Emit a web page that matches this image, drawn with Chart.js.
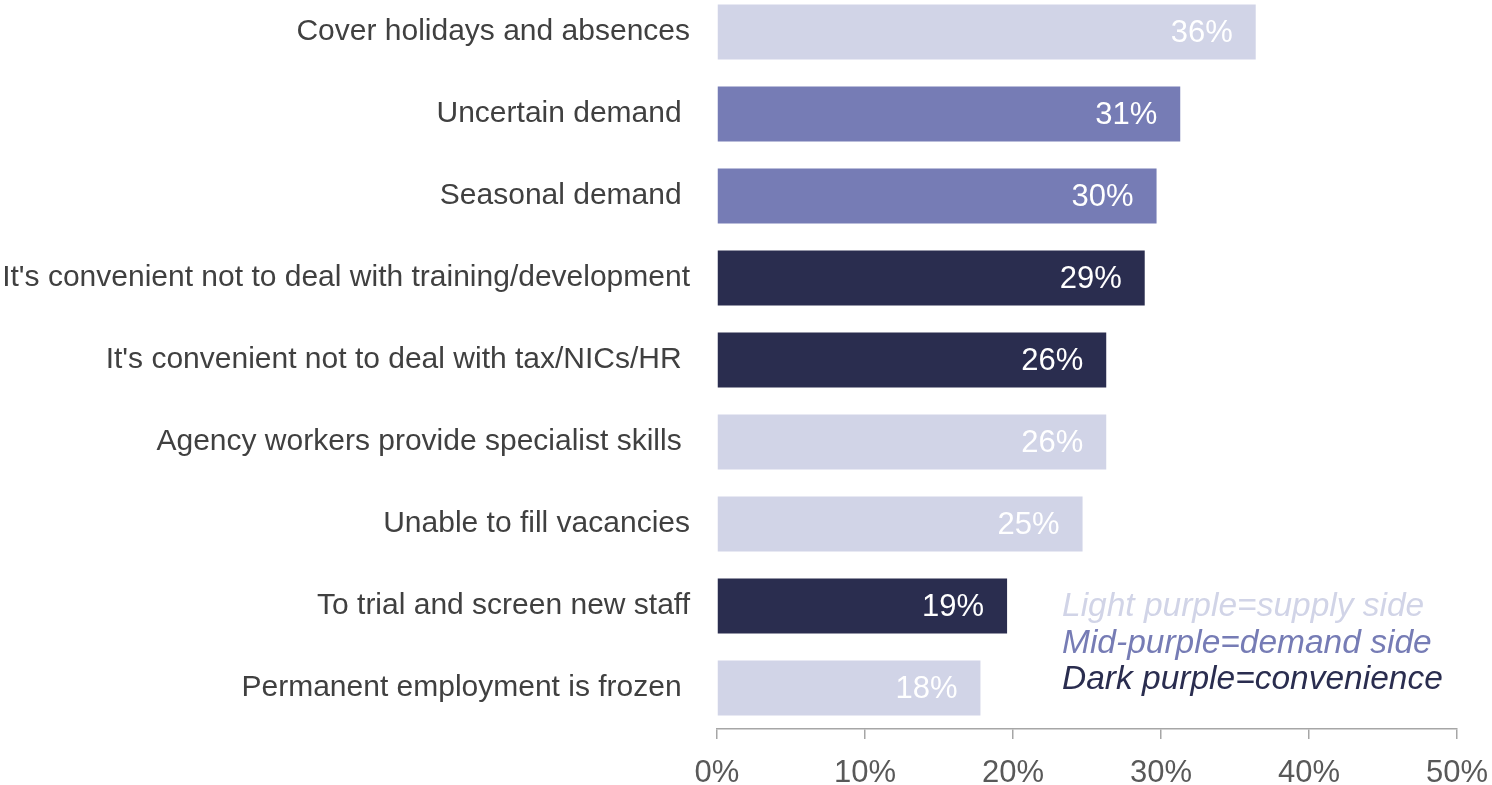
<!DOCTYPE html>
<html>
<head>
<meta charset="utf-8">
<script src="https://cdn.jsdelivr.net/npm/chart.js@4"></script>
<style>
  html, body { margin: 0; padding: 0; background: #ffffff; overflow: hidden; }
  #wrap { width: 1492px; height: 794px; position: absolute; left: 0; top: -9px; }
</style>
</head>
<body>
<div id="wrap"><canvas id="chart"></canvas></div>
<script>
// Reasons for using agency workers (share of employers)
const categories = [
  'Cover holidays and absences',
  'Uncertain demand ',
  'Seasonal demand ',
  "It's convenient not to deal with training/development",
  "It's convenient not to deal with tax/NICs/HR ",
  'Agency workers provide specialist skills ',
  'Unable to fill vacancies',
  'To trial and screen new staff',
  'Permanent employment is frozen '
];
const values = [36.4, 31.3, 29.7, 28.9, 26.3, 26.3, 24.7, 19.6, 17.8];
const valueLabels = ['36%', '31%', '30%', '29%', '26%', '26%', '25%', '19%', '18%'];
// supply / demand / convenience grouping for each bar
const groups = ['supply', 'demand', 'demand', 'convenience', 'convenience', 'supply', 'supply', 'convenience', 'supply'];
const xTicks = [0, 10, 20, 30, 40, 50];
const legendLines = [
  { text: 'Light purple=supply side', group: 'supply' },
  { text: 'Mid-purple=demand side', group: 'demand' },
  { text: 'Dark purple=convenience', group: 'convenience' }
];

const groupColors = {
  supply: '#d1d4e7',
  demand: '#767cb5',
  convenience: '#2a2d4f'
};

// white % labels inside the bar ends
const barLabels = {
  id: 'barLabels',
  afterDatasetsDraw(chart) {
    const { ctx } = chart;
    const meta = chart.getDatasetMeta(0);
    ctx.save();
    ctx.font = '31px "Liberation Sans", Arial, sans-serif';
    ctx.fillStyle = '#ffffff';
    ctx.textAlign = 'right';
    ctx.textBaseline = 'middle';
    meta.data.forEach((bar, i) => {
      ctx.fillText(valueLabels[i], bar.x - 23, bar.y + 1);
    });
    ctx.restore();
  }
};

// colour key text in the lower right
const colourKey = {
  id: 'colourKey',
  afterDraw(chart) {
    const { ctx, chartArea } = chart;
    ctx.save();
    ctx.font = 'italic 33.5px "Liberation Sans", Arial, sans-serif';
    ctx.textAlign = 'left';
    ctx.textBaseline = 'alphabetic';
    legendLines.forEach((line, i) => {
      ctx.fillStyle = groupColors[line.group];
      ctx.fillText(line.text, chartArea.left + 345, chartArea.bottom - 113 + i * 36.5);
    });
    ctx.restore();
  }
};

new Chart(document.getElementById('chart'), {
  type: 'bar',
  data: {
    labels: categories,
    datasets: [{
      data: values,
      backgroundColor: groups.map(g => groupColors[g]),
      borderWidth: 0,
      barPercentage: 0.67,
      categoryPercentage: 1
    }]
  },
  options: {
    indexAxis: 'y',
    responsive: true,
    maintainAspectRatio: false,
    animation: false,
    layout: { padding: 0 },
    plugins: {
      legend: { display: false },
      tooltip: { enabled: false }
    },
    scales: {
      x: {
        min: 0,
        max: 50,
        afterBuildTicks: axis => { axis.ticks = xTicks.map(v => ({ value: v })); },
        afterFit: axis => {
          axis.height = 56;
          axis.paddingLeft = 0;
          axis.paddingRight = 35;
        },
        grid: {
          display: true,
          drawOnChartArea: false,
          drawTicks: true,
          tickLength: 10,
          color: '#a6a6a6',
          lineWidth: 1.5
        },
        border: { display: true, color: '#a6a6a6', width: 1.5 },
        ticks: {
          color: '#595959',
          padding: 16,
          maxRotation: 0,
          font: { family: 'Liberation Sans', size: 31 },
          callback: v => v + '%'
        }
      },
      y: {
        afterFit: axis => {
          axis.width = 717;
          axis.paddingTop = 0;
          axis.paddingBottom = 0;
        },
        grid: { display: false },
        border: { display: false },
        ticks: {
          color: '#404040',
          padding: 19,
          autoSkip: false,
          font: { family: 'Liberation Sans', size: 30 }
        }
      }
    }
  },
  plugins: [barLabels, colourKey]
});
</script>
</body>
</html>
